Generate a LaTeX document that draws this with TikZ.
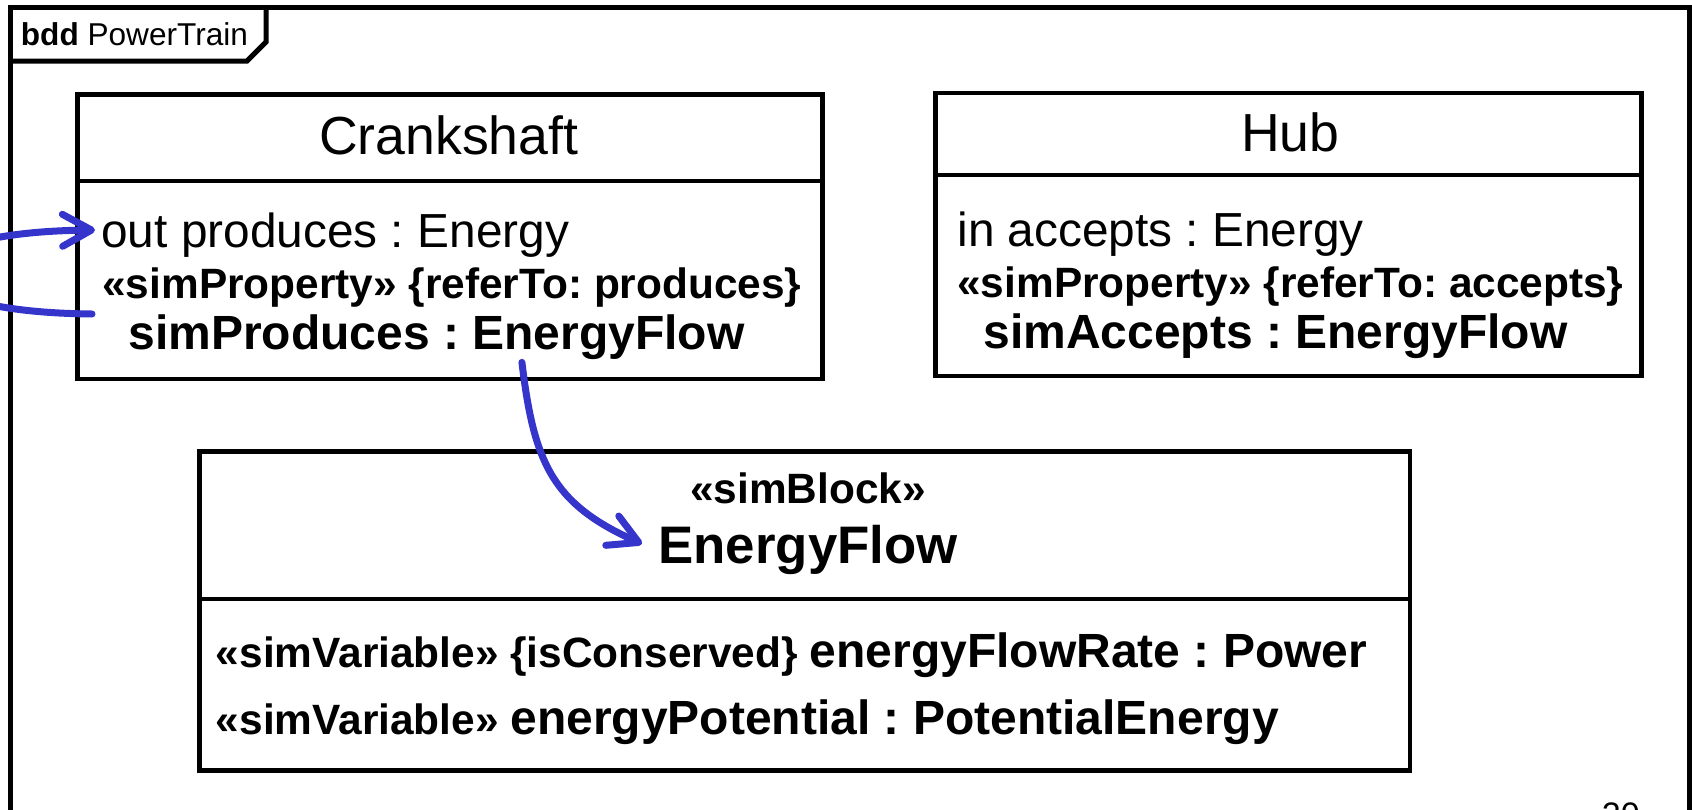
\documentclass[tikz,border=0pt]{standalone}
\usepackage{fontspec}
\setmainfont{Liberation Sans}
\usetikzlibrary{positioning, arrows.meta}
\frenchspacing

\definecolor{linkblue}{RGB}{53,53,204}
\newcommand{\titlefont}{\fontsize{26.8}{32}\selectfont}
\newcommand{\attrfont}{\fontsize{23.9}{28}\selectfont}
\newcommand{\stereofont}{\fontsize{21.2}{25.5}\selectfont\bfseries}
\newcommand{\propfont}{\fontsize{24}{25.5}\selectfont\bfseries}
\newcommand{\blockfont}{\fontsize{26.4}{32}\selectfont\bfseries}
\newcommand{\framefont}{\fontsize{15.8}{19}\selectfont}

\begin{document}
\begin{tikzpicture}[x=0.5pt, y=-0.5pt, node distance=54.25pt]
  \tikzstyle{block}=[draw, line width=2.25pt, inner sep=0pt, anchor=north west]
  \tikzstyle{txt}=[inner sep=1.75pt]
  \tikzstyle{prop}=[align=left, inner sep=5pt, font=\stereofont]
  \tikzstyle{link}=[draw=linkblue, line width=3.5pt, line cap=round,
    -{Straight Barb[length=14.5pt, width=16pt, round]}]
  \useasboundingbox (0,0) rectangle (1692,809);

  % frame
  \draw[line width=2.5pt] (10,850) -- (10,7.5) -- (1689,7.5) -- (1689,850);
  \draw[line width=2.5pt] (10,61) -- (247,61) -- (266,42) -- (266,7.5);
  \node[txt, anchor=base west, font=\framefont] (frameName) at (17,45) {\textbf{bdd} PowerTrain};
  \node[txt, anchor=base west, font=\fontsize{17}{20}\selectfont] (pageNo) at (1598,826) {20};

  \node[block, minimum width=372.5pt, minimum height=142.25pt] (Crank) at (75,92) {};
  \node[block, minimum width=353pt, minimum height=141.5pt, anchor=west, right=of Crank, yshift=1pt] (Hub) {};
  \node[block, minimum width=605.25pt, minimum height=159.5pt] (Flow) at (197,449) {};

  \draw[line width=2.25pt] ([shift={(0,89)}]Crank.north west) -- ([shift={(0,89)}]Crank.north east);
  \draw[line width=2.25pt] ([shift={(0,84)}]Hub.north west) -- ([shift={(0,84)}]Hub.north east);
  \draw[line width=2.25pt] ([shift={(0,150)}]Flow.north west) -- ([shift={(0,150)}]Flow.north east);

  \node[txt, font=\titlefont] (CrankName) at ([shift={(-1,43)}]Crank.north) {Crankshaft};
  \node[txt, anchor=west, inner xsep=3pt, text depth=0pt, font=\attrfont] (produces) at ([shift={(20,138)}]Crank.north west) {out produces : Energy};
  \node[prop, anchor=west] (simProd) at ([shift={(17,222)}]Crank.north west)
    {«simProperty» \{referTo: produces\}\\\hspace*{13pt}{\propfont simProduces : EnergyFlow}};

  \node[txt, font=\titlefont] (HubName) at ([shift={(2,42)}]Hub.north) {Hub};
  \node[txt, anchor=west, inner xsep=3pt, text depth=0pt, font=\attrfont] (accepts) at ([shift={(18,138)}]Hub.north west) {in accepts : Energy};
  \node[prop, anchor=west] (simAcc) at ([shift={(14,222)}]Hub.north west)
    {«simProperty» \{referTo: accepts\}\\\hspace*{13pt}{\propfont simAccepts : EnergyFlow}};

  \node[txt, anchor=base, font=\stereofont] (FlowSt) at ([shift={(3.5,54)}]Flow.north) {«simBlock»};
  \node[txt, anchor=base, inner xsep=8pt, text depth=0pt, font=\blockfont] (FlowName) at ([shift={(3.5,114)}]Flow.north) {EnergyFlow};
  \node[txt, anchor=base west] (rateVar) at ([shift={(15,218)}]Flow.north west)
    {{\stereofont «simVariable» \{isConserved\} }{\propfont energyFlowRate : Power}};
  \node[txt, anchor=base west] (potVar) at ([shift={(15,285)}]Flow.north west)
    {{\stereofont «simVariable» }{\propfont energyPotential : PotentialEnergy}};

  \draw[link] (simProd.west) .. controls (-120,312) and (-120,232) .. (produces.west);
  \draw[link] ([shift={(70,-8)}]simProd.south) .. controls +(12,100) and +(-90,-40) .. (FlowName.west);
\end{tikzpicture}
\end{document}
